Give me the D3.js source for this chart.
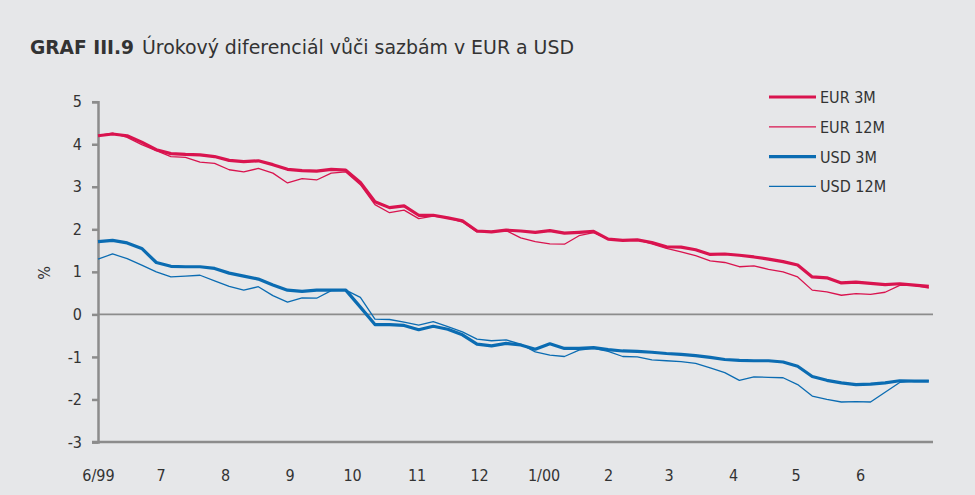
<!DOCTYPE html>
<html>
<head>
<meta charset="utf-8">
<script src="https://cdn.jsdelivr.net/npm/d3@7"></script>
<style>
  html, body { margin: 0; padding: 0; background: #e6e7e9; }
  svg { display: block; }
  text { font-family: "Liberation Sans Narrow", "DejaVu Sans Condensed", "Roboto", sans-serif; fill: #333; }
</style>
</head>
<body>
<div id="chart"></div>
<script>
// weekly observations, starting 1 June 1999
const startDate = new Date(1999, 5, 1);
const weekCount = 58;

const eur3m = [4.20, 4.24, 4.20, 4.05, 3.87, 3.78, 3.76, 3.75, 3.71, 3.62,
  3.59, 3.61, 3.52, 3.41, 3.38, 3.37, 3.41, 3.39, 3.10, 2.65,
  2.51, 2.55, 2.33, 2.33, 2.27, 2.20, 1.96, 1.94, 1.98, 1.96,
  1.93, 1.97, 1.91, 1.93, 1.95, 1.77, 1.74, 1.75, 1.69, 1.59,
  1.58, 1.52, 1.41, 1.42, 1.39, 1.35, 1.30, 1.24, 1.16, 0.88,
  0.86, 0.74, 0.76, 0.73, 0.70, 0.72, 0.69, 0.66];

const eur12m = [4.20, 4.26, 4.16, 3.99, 3.85, 3.71, 3.69, 3.58, 3.55, 3.40,
  3.35, 3.43, 3.32, 3.09, 3.19, 3.16, 3.32, 3.35, 3.05, 2.58,
  2.39, 2.45, 2.25, 2.31, 2.27, 2.17, 1.94, 1.95, 1.97, 1.80,
  1.71, 1.66, 1.65, 1.85, 1.92, 1.77, 1.74, 1.75, 1.66, 1.55,
  1.47, 1.38, 1.26, 1.22, 1.12, 1.14, 1.06, 1.00, 0.88, 0.57,
  0.53, 0.45, 0.49, 0.47, 0.52, 0.68, 0.68, 0.62];

const usd3m = [1.71, 1.74, 1.68, 1.55, 1.22, 1.13, 1.12, 1.12, 1.08, 0.97,
  0.90, 0.83, 0.69, 0.57, 0.54, 0.57, 0.57, 0.57, 0.17, -0.24,
  -0.24, -0.26, -0.36, -0.28, -0.35, -0.48, -0.70, -0.74, -0.68, -0.72,
  -0.82, -0.69, -0.80, -0.80, -0.78, -0.83, -0.86, -0.87, -0.89, -0.92,
  -0.94, -0.97, -1.01, -1.06, -1.08, -1.09, -1.09, -1.12, -1.22, -1.46,
  -1.55, -1.61, -1.65, -1.64, -1.61, -1.56, -1.57, -1.57];

const usd12m = [1.30, 1.42, 1.31, 1.16, 1.00, 0.88, 0.90, 0.92, 0.79, 0.66,
  0.57, 0.65, 0.44, 0.29, 0.39, 0.38, 0.56, 0.57, 0.40, -0.11,
  -0.12, -0.18, -0.25, -0.17, -0.29, -0.41, -0.58, -0.62, -0.60, -0.70,
  -0.88, -0.96, -0.99, -0.84, -0.80, -0.87, -0.99, -1.00, -1.07, -1.09,
  -1.11, -1.15, -1.26, -1.37, -1.55, -1.47, -1.48, -1.49, -1.65, -1.92,
  -2.00, -2.06, -2.05, -2.06, -1.83, -1.60, -1.57, -1.56];

const seriesNames = ["EUR 3M", "EUR 12M", "USD 3M", "USD 12M"];
const seriesValues = [eur3m, eur12m, usd3m, usd12m];
const seriesColors = ["#d9144f", "#d9144f", "#0b6cb2", "#0b6cb2"];
const seriesWidths = [3.2, 1.3, 3.2, 1.3];

const yTicks = [5, 4, 3, 2, 1, 0, -1, -2, -3];
const monthLabels = ["6/99", "7", "8", "9", "10", "11", "12", "1/00", "2", "3", "4", "5", "6"];

const width = 975, height = 495;
const svg = d3.select("#chart").append("svg")
  .attr("width", width)
  .attr("height", height);

svg.append("rect").attr("width", width).attr("height", height).attr("fill", "#e6e7e9");

// title
const title = svg.append("text").attr("x", 30).attr("y", 54).style("font-size", "20px");
title.append("tspan").attr("font-weight", "bold").attr("textLength", 104)
  .attr("lengthAdjust", "spacingAndGlyphs").text("GRAF III.9");
title.append("tspan").attr("x", 142).attr("textLength", 432)
  .attr("lengthAdjust", "spacingAndGlyphs").text("Úrokový diferenciál vůči sazbám v EUR a USD");

const dates = d3.range(weekCount).map(i => d3.timeDay.offset(startDate, i * 7));

const x = d3.scaleTime()
  .domain([startDate, new Date(2000, 6, 6)])
  .range([98, 933]);
const y = d3.scaleLinear().domain([-3, 5]).range([442, 101.7]);

// zero line
svg.append("line")
  .attr("x1", 98).attr("x2", 933)
  .attr("y1", y(0)).attr("y2", y(0))
  .attr("stroke", "#8c8c8c").attr("stroke-width", 1.6);

// y axis
const yAxis = svg.append("g")
  .attr("transform", "translate(98,0)")
  .call(d3.axisLeft(y).tickValues(yTicks).tickSize(6).tickPadding(10).tickFormat(d => String(d)));
yAxis.select(".domain").attr("stroke", "#8c8c8c").attr("stroke-width", 2.5);
yAxis.selectAll(".tick line").attr("stroke", "#8c8c8c").attr("stroke-width", 2.5);
yAxis.selectAll(".tick text").style("font-size", "16px").attr("fill", "#333")
  .style("font-family", "'Liberation Sans Narrow', 'DejaVu Sans Condensed', Roboto, sans-serif");

// x axis
const monthTicks = d3.timeMonth.range(startDate, new Date(2000, 6, 1));
const xAxis = svg.append("g")
  .attr("transform", `translate(0,${y(-3)})`)
  .call(d3.axisBottom(x).tickValues(monthTicks).tickSize(0).tickPadding(28)
    .tickFormat((d, i) => monthLabels[i]));
xAxis.select(".domain").attr("d", "M92,0H933").attr("stroke", "#8c8c8c").attr("stroke-width", 2.5);
xAxis.selectAll(".tick text").style("font-size", "16px").attr("fill", "#333")
  .style("font-family", "'Liberation Sans Narrow', 'DejaVu Sans Condensed', Roboto, sans-serif");

// y title
svg.append("text")
  .attr("transform", "translate(50,273) rotate(-90)")
  .attr("text-anchor", "middle")
  .style("font-size", "16px")
  .text("%");

// lines
const line = d3.line()
  .x((d, i) => x(dates[i]))
  .y(d => y(d));

seriesValues.forEach((vals, k) => {
  svg.append("path")
    .datum(vals)
    .attr("fill", "none")
    .attr("stroke", seriesColors[k])
    .attr("stroke-width", seriesWidths[k])
    .attr("stroke-linejoin", "round")
    .attr("d", line);
});

// legend
const legend = svg.append("g");
seriesNames.forEach((name, k) => {
  const ly = 97 + k * 29.8;
  legend.append("line")
    .attr("x1", 769).attr("x2", 816)
    .attr("y1", ly).attr("y2", ly)
    .attr("stroke", seriesColors[k])
    .attr("stroke-width", seriesWidths[k]);
  legend.append("text")
    .attr("x", 820).attr("y", ly + 6)
    .style("font-size", "16px")
    .text(name);
});
</script>
</body>
</html>
